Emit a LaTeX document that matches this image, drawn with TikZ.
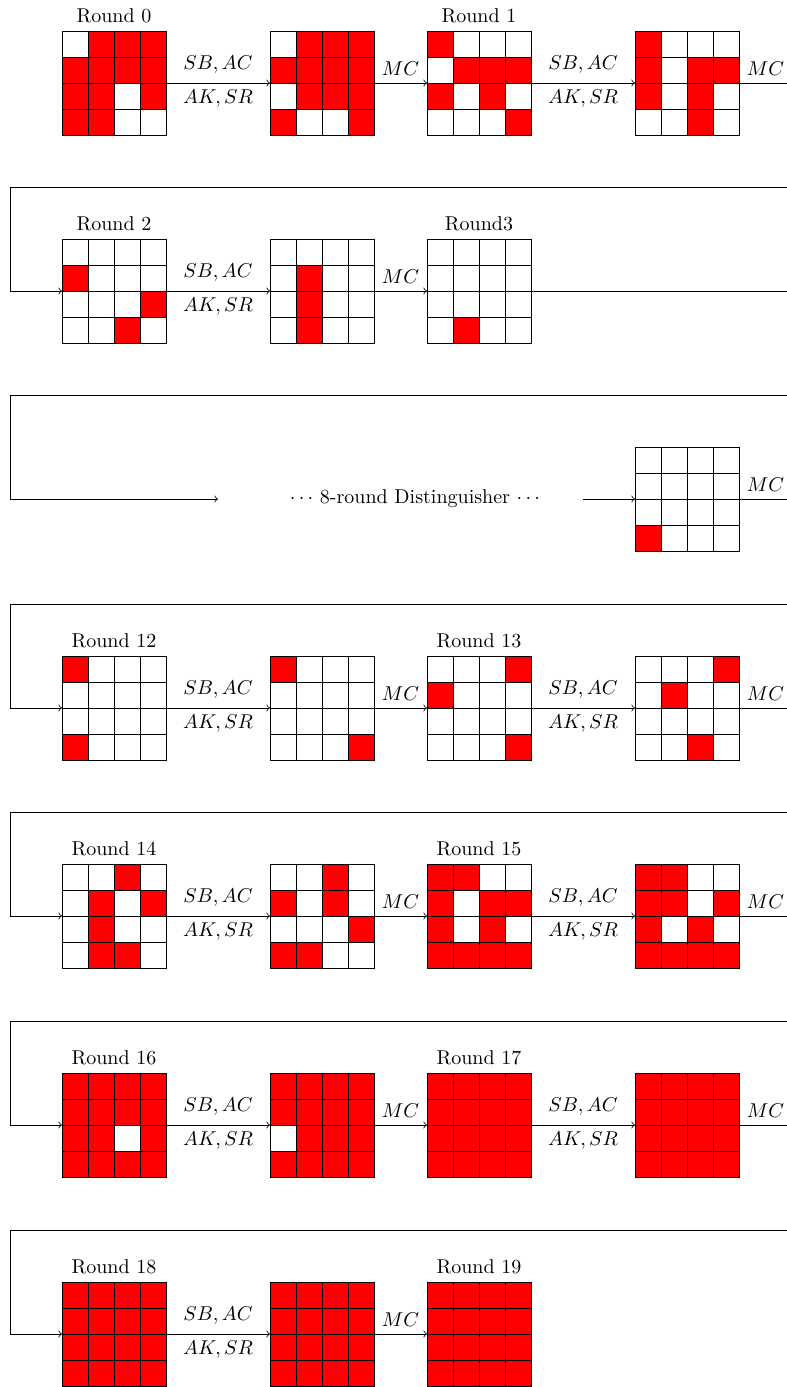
\documentclass[tikz,border=0pt]{standalone}
\tikzset{
  gridbox/.style={minimum width=52pt,minimum height=52pt,inner sep=0pt,outer sep=0pt},
  cellon/.style={draw=black,fill=red},
  celloff/.style={draw=black,fill=white},
  flow/.style={->},
  sbl/.style={midway,yshift=9pt},
  akl/.style={midway,yshift=-8pt},
  mcl/.style={midway,yshift=7pt},
  rlbl/.style={yshift=7.5pt}
}
\newcommand{\stgrid}[4]{%
  \node[gridbox] (#1) at (#2+52,#3+52) {};
  \foreach \v [count=\i from 0] in {#4} {
    \pgfmathtruncatemacro\rr{\i/4}
    \pgfmathtruncatemacro\cl{\i-4*\rr}
    \ifnum\v=1 \path[cellon] (#2+26*\cl,#3+26*\rr) rectangle ++(26,26);
    \else \path[celloff] (#2+26*\cl,#3+26*\rr) rectangle ++(26,26); \fi
  }%
}
\begin{document}
\begin{tikzpicture}[x=0.5pt,y=-0.5pt]
\useasboundingbox (0,0) rectangle (787,1387);
\clip (0,0) rectangle (787,1387);

% ---------------- Row a
\stgrid{a1}{62}{31}{0,1,1,1,1,1,1,1,1,1,0,1,1,1,0,0}
\stgrid{a2}{270}{31}{0,1,1,1,1,1,1,1,0,1,1,1,1,0,0,1}
\stgrid{a3}{427}{31}{1,0,0,0,0,1,1,1,1,0,1,0,0,0,0,1}
\stgrid{a4}{635}{31}{1,0,0,0,1,0,1,1,1,0,1,0,0,0,1,0}
\node[rlbl] at (a1.north) {Round 0};
\node[rlbl] at (a3.north) {Round 1};
\coordinate (aE) at (792,83);
\draw[flow] (a1.east) -- node[sbl]{$SB,AC$} node[akl]{$AK,SR$} (a2.west);
\draw[flow] (a2.east) -- node[mcl]{$MC$} (a3.west);
\draw[flow] (a3.east) -- node[sbl]{$SB,AC$} node[akl]{$AK,SR$} (a4.west);
\draw (a4.east) -- node[mcl]{$MC$} (aE);

% ---------------- Row b
\stgrid{b1}{62}{239}{0,0,0,0,1,0,0,0,0,0,0,1,0,0,1,0}
\stgrid{b2}{270}{239}{0,0,0,0,0,1,0,0,0,1,0,0,0,1,0,0}
\stgrid{b3}{427}{239}{0,0,0,0,0,0,0,0,0,0,0,0,0,1,0,0}
\node[rlbl] at (b1.north) {Round 2};
\node[rlbl] at (b3.north) {Round3};
\coordinate (bL) at (792,187);
\coordinate (bC) at (10,187);
\coordinate (bE) at (792,291);
\draw[flow] (bL) -- (bC) |- (b1.west);
\draw[flow] (b1.east) -- node[sbl]{$SB,AC$} node[akl]{$AK,SR$} (b2.west);
\draw[flow] (b2.east) -- node[mcl]{$MC$} (b3.west);
\draw (b3.east) -- (bE);

% ---------------- Row c
\stgrid{c4}{635}{447}{0,0,0,0,0,0,0,0,0,0,0,0,1,0,0,0}
\node (dist) at (415,499) {$\cdots$ 8-round Distinguisher $\cdots$};
\coordinate (cL) at (792,395);
\coordinate (cC) at (10,395);
\coordinate (c1) at (218,499);
\coordinate (c2) at (583,499);
\coordinate (cE) at (792,499);
\draw[flow] (cL) -- (cC) |- (c1);
\draw[flow] (c2) -- (c4.west);
\draw (c4.east) -- node[mcl]{$MC$} (cE);

% ---------------- Row d
\stgrid{d1}{62}{656}{1,0,0,0,0,0,0,0,0,0,0,0,1,0,0,0}
\stgrid{d2}{270}{656}{1,0,0,0,0,0,0,0,0,0,0,0,0,0,0,1}
\stgrid{d3}{427}{656}{0,0,0,1,1,0,0,0,0,0,0,0,0,0,0,1}
\stgrid{d4}{635}{656}{0,0,0,1,0,1,0,0,0,0,0,0,0,0,1,0}
\node[rlbl] at (d1.north) {Round 12};
\node[rlbl] at (d3.north) {Round 13};
\coordinate (dL) at (792,604);
\coordinate (dC) at (10,604);
\coordinate (dE) at (792,708);
\draw[flow] (dL) -- (dC) |- (d1.west);
\draw[flow] (d1.east) -- node[sbl]{$SB,AC$} node[akl]{$AK,SR$} (d2.west);
\draw[flow] (d2.east) -- node[mcl]{$MC$} (d3.west);
\draw[flow] (d3.east) -- node[sbl]{$SB,AC$} node[akl]{$AK,SR$} (d4.west);
\draw (d4.east) -- node[mcl]{$MC$} (dE);

% ---------------- Row e
\stgrid{e1}{62}{864}{0,0,1,0,0,1,0,1,0,1,0,0,0,1,1,0}
\stgrid{e2}{270}{864}{0,0,1,0,1,0,1,0,0,0,0,1,1,1,0,0}
\stgrid{e3}{427}{864}{1,1,0,0,1,0,1,1,1,0,1,0,1,1,1,1}
\stgrid{e4}{635}{864}{1,1,0,0,1,1,0,1,1,0,1,0,1,1,1,1}
\node[rlbl] at (e1.north) {Round 14};
\node[rlbl] at (e3.north) {Round 15};
\coordinate (eL) at (792,812);
\coordinate (eC) at (10,812);
\coordinate (eE) at (792,916);
\draw[flow] (eL) -- (eC) |- (e1.west);
\draw[flow] (e1.east) -- node[sbl]{$SB,AC$} node[akl]{$AK,SR$} (e2.west);
\draw[flow] (e2.east) -- node[mcl]{$MC$} (e3.west);
\draw[flow] (e3.east) -- node[sbl]{$SB,AC$} node[akl]{$AK,SR$} (e4.west);
\draw (e4.east) -- node[mcl]{$MC$} (eE);

% ---------------- Row f
\stgrid{f1}{62}{1073}{1,1,1,1,1,1,1,1,1,1,0,1,1,1,1,1}
\stgrid{f2}{270}{1073}{1,1,1,1,1,1,1,1,0,1,1,1,1,1,1,1}
\stgrid{f3}{427}{1073}{1,1,1,1,1,1,1,1,1,1,1,1,1,1,1,1}
\stgrid{f4}{635}{1073}{1,1,1,1,1,1,1,1,1,1,1,1,1,1,1,1}
\node[rlbl] at (f1.north) {Round 16};
\node[rlbl] at (f3.north) {Round 17};
\coordinate (fL) at (792,1021);
\coordinate (fC) at (10,1021);
\coordinate (fE) at (792,1125);
\draw[flow] (fL) -- (fC) |- (f1.west);
\draw[flow] (f1.east) -- node[sbl]{$SB,AC$} node[akl]{$AK,SR$} (f2.west);
\draw[flow] (f2.east) -- node[mcl]{$MC$} (f3.west);
\draw[flow] (f3.east) -- node[sbl]{$SB,AC$} node[akl]{$AK,SR$} (f4.west);
\draw (f4.east) -- node[mcl]{$MC$} (fE);

% ---------------- Row g
\stgrid{g1}{62}{1282}{1,1,1,1,1,1,1,1,1,1,1,1,1,1,1,1}
\stgrid{g2}{270}{1282}{1,1,1,1,1,1,1,1,1,1,1,1,1,1,1,1}
\stgrid{g3}{427}{1282}{1,1,1,1,1,1,1,1,1,1,1,1,1,1,1,1}
\node[rlbl] at (g1.north) {Round 18};
\node[rlbl] at (g3.north) {Round 19};
\coordinate (gL) at (792,1230);
\coordinate (gC) at (10,1230);
\draw[flow] (gL) -- (gC) |- (g1.west);
\draw[flow] (g1.east) -- node[sbl]{$SB,AC$} node[akl]{$AK,SR$} (g2.west);
\draw[flow] (g2.east) -- node[mcl]{$MC$} (g3.west);
\end{tikzpicture}
\end{document}
